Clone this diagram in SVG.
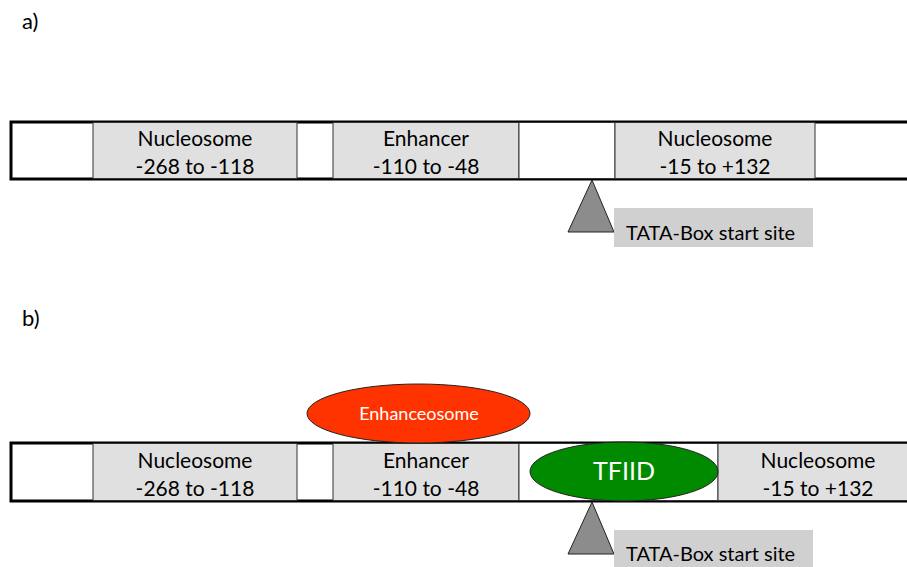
<svg xmlns="http://www.w3.org/2000/svg" width="907" height="567" viewBox="0 0 907 567">
<style>
text{font-family:Lato,"Open Sans","Liberation Sans",sans-serif;fill:#000}
.bar{fill:#fff;stroke:#000;stroke-width:3}
.seg{fill:#e0e0e0;stroke:#333;stroke-width:1}
.wseg{fill:#fff;stroke:#333;stroke-width:1}
.lbl{font-size:21px;text-anchor:middle}
.tri{fill:#8c8c8c;stroke:#222;stroke-width:1}
.tbox{fill:#d0d0d0}
.ttxt{font-size:20px}
.hdr{font-size:22px}
</style>
<rect x="0" y="0" width="907" height="567" fill="#fff"/>
<text class="hdr" x="22" y="29">a)</text>
<text class="hdr" x="22" y="326">b)</text>

<g id="bar-a">
<rect class="bar" x="11" y="122" width="910" height="57"/>
<rect class="seg" x="93" y="122.5" width="204" height="56"/>
<rect class="seg" x="333" y="122.5" width="186" height="56"/>
<rect class="wseg" x="519" y="122.5" width="96" height="56"/>
<rect class="seg" x="615" y="122.5" width="200" height="56"/>
</g>
<g id="a-nuc1"><text class="lbl" x="195" y="146">Nucleosome</text><text class="lbl" x="195" y="174">-268 to -118</text></g>
<g id="a-enh"><text class="lbl" x="426" y="146">Enhancer</text><text class="lbl" x="426" y="174">-110 to -48</text></g>
<g id="a-nuc2"><text class="lbl" x="715" y="146">Nucleosome</text><text class="lbl" x="715" y="174">-15 to +132</text></g>
<g id="a-tata">
<polygon class="tri" points="592,180 614,232 568,232"/>
<rect class="tbox" x="614" y="208" width="199" height="39"/>
<text class="ttxt" x="626" y="240">TATA-Box start site</text>
</g>

<g id="bar-b">
<rect class="bar" x="11" y="443" width="910" height="58"/>
<rect class="seg" x="93" y="443.5" width="204" height="57"/>
<rect class="seg" x="333" y="443.5" width="186" height="57"/>
<rect class="wseg" x="519" y="443.5" width="199" height="57"/>
<rect class="seg" x="718" y="443.5" width="200" height="57"/>
</g>
<g id="b-nuc1"><text class="lbl" x="195" y="468">Nucleosome</text><text class="lbl" x="195" y="496">-268 to -118</text></g>
<g id="b-enh"><text class="lbl" x="426" y="468">Enhancer</text><text class="lbl" x="426" y="496">-110 to -48</text></g>
<g id="b-nuc2"><text class="lbl" x="818" y="468">Nucleosome</text><text class="lbl" x="818" y="496">-15 to +132</text></g>
<g id="enhanceosome">
<ellipse cx="418.5" cy="413.5" rx="111.5" ry="29.5" fill="#ff3300" stroke="#222" stroke-width="1"/>
<text x="419" y="420" style="font-size:18px;text-anchor:middle;fill:#fff">Enhanceosome</text>
</g>
<g id="tfiid">
<ellipse cx="624" cy="471.5" rx="94" ry="29.5" fill="#008a00" stroke="#222" stroke-width="1"/>
<text x="624" y="480" style="font-size:25px;text-anchor:middle;fill:#fff">TFIID</text>
</g>
<g id="b-tata">
<polygon class="tri" points="592,502 614,554 568,554"/>
<rect class="tbox" x="614" y="530" width="199" height="40"/>
<text class="ttxt" x="626" y="561">TATA-Box start site</text>
</g>
</svg>
